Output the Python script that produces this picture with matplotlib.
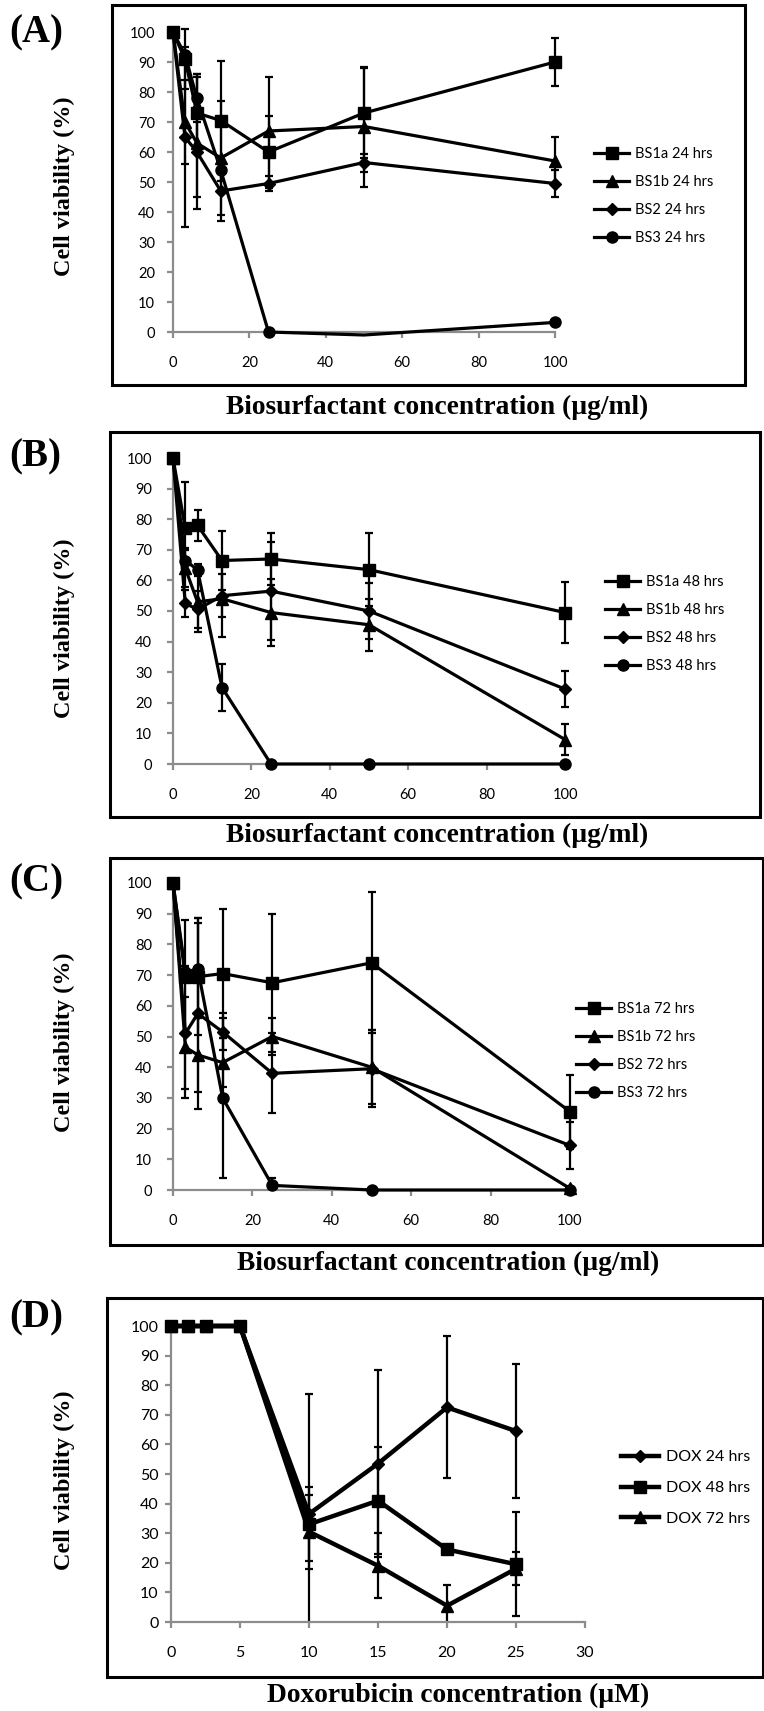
import numpy as np
import matplotlib
matplotlib.use("Agg")
import matplotlib.pyplot as plt
from matplotlib.patches import Rectangle
from matplotlib.transforms import Bbox, TransformedBbox

W, H = 764, 1711

# biosurfactant doses (ug/ml)
conc = [0, 3.125, 6.25, 12.5, 25, 50, 100]

# (A) 24 hrs
a_bs1a = [100, 91, 73, 70.5, 60, 73, 90]
a_bs1a_err = [0, 10, 13, 20, 12, 15, 8]
a_bs1b = [100, 70, 63, 58, 67, 68.5, 57]
a_bs1b_err = [0, 14, 22, 19, 18, 20, 8]
a_bs2 = [100, 65, 60, 47, 49.5, 56.5, 49.5]
a_bs2_err = [0, 30, 15, 10, 2.5, 3, 4.5]
a_bs3 = [100, 92.5, 78, 54, 0, -1, 3.2]
a_bs3_err = [0, 0, 8, 0, 0, 0, 0]

# (B) 48 hrs
b_bs1a = [100, 77, 78, 66.5, 67, 63.5, 49.5]
b_bs1a_err = [0, 15, 5, 9.5, 8.5, 12, 10]
b_bs1b = [100, 64, 53, 54, 49.5, 45.5, 8]
b_bs1b_err = [0, 6, 10, 12.5, 11, 8.5, 5]
b_bs2 = [100, 52.5, 50.5, 55, 56.5, 50, 24.5]
b_bs2_err = [0, 4.5, 6, 7, 16, 9, 6]
b_bs3 = [100, 66.5, 63.5, 25, 0, 0, 0]
b_bs3_err = [0, 4, 2, 7.6, 0, 0, 0]

# (C) 72 hrs
c_bs1a = [100, 69.5, 69.5, 70.5, 67.5, 74, 25.5]
c_bs1a_err = [0, 18.5, 19, 21, 22.5, 23, 12]
c_bs1b = [100, 46.5, 44, 41.5, 50, 40, 0.5]
c_bs1b_err = [0, 16.5, 12, 8, 6, 12, 0]
c_bs2 = [100, 51, 57.5, 51.5, 38, 39.5, 14.5]
c_bs2_err = [0, 18, 31, 6, 13, 12.5, 7.5]
c_bs3 = [100, 71, 72, 30, 1.5, 0, 0]
c_bs3_err = [0, 2, 15, 26, 2.5, 0, 0]

# (D) doxorubicin (uM)
dox_x = [0, 1.25, 2.5, 5, 10, 15, 20, 25]
dox24 = [100, 100, 100, 100, 36.5, 53.5, 72.5, 64.5]
dox24_err = [0, 0, 0, 0, 40.5, 31.5, 24, 22.5]
dox48 = [100, 100, 100, 100, 33, 41, 24.5, 19.5]
dox48_err = [0, 0, 0, 0, 12.5, 18, 1.5, 17.5]
dox72 = [100, 100, 100, 100, 30.5, 19, 5.5, 18]
dox72_err = [0, 0, 0, 0, 12.5, 11, 7, 5.5]

bs_markers = ["s", "^", "D", "o"]
bs_msizes = [8, 8.5, 6.5, 8]
dox_markers = ["D", "s", "^"]
dox_msizes = [6.5, 8.5, 8.5]

GRAY = "#8c8c8c"
tick_font = "Lato"
serif = "Liberation Serif"


def fx(px):
    return px / W


def fy(py):
    return 1 - py / H


def make_axes(x0, x1, ytop, ybot):
    return fig.add_axes([fx(x0), fy(ybot), fx(x1 - x0), (ybot - ytop) / H])


def frame(x0, y0, x1, y1):
    fig.add_artist(Rectangle((fx(x0), fy(y1)), fx(x1 - x0), (y1 - y0) / H,
                             transform=fig.transFigure, fill=False,
                             lw=2.2, ec="black", zorder=0))


def style_axes(ax, xmax, xstep, tsize, ypad, xpad):
    ax.set_xlim(0, xmax)
    ax.set_ylim(0, 100)
    ax.set_xticks(np.arange(0, xmax + 0.1, xstep))
    ax.set_yticks(np.arange(0, 101, 10))
    for s in ["top", "right"]:
        ax.spines[s].set_visible(False)
    for s in ["left", "bottom"]:
        ax.spines[s].set_color(GRAY)
        ax.spines[s].set_linewidth(1.6)
    ax.tick_params(axis="both", direction="out", length=4, width=1.6,
                   color=GRAY, labelsize=tsize)
    ax.tick_params(axis="y", pad=ypad)
    ax.tick_params(axis="x", pad=xpad)
    for lab in ax.get_xticklabels() + ax.get_yticklabels():
        lab.set_fontfamily(tick_font)
    ax.patch.set_visible(False)


def draw_series(ax, x, ys, errs, markers, msizes, labels, lw, hide=None):
    # error bars may poke above 100 but are cut at the x axis
    clip = TransformedBbox(Bbox([[-0.05, 0.0], [1.05, 1.1]]), ax.transAxes)
    handles = []
    for i, (y, e, m, ms, lab) in enumerate(zip(ys, errs, markers, msizes, labels)):
        every = None
        if hide is not None and hide[0] == i:
            every = [k for k in range(len(x)) if k != hide[1]]
        ln, = ax.plot(x, y, color="black", lw=lw, marker=m, markersize=ms,
                      markevery=every, label=lab, clip_on=False, zorder=3)
        eb = ax.errorbar(x, y, yerr=e, fmt="none", ecolor="black",
                         elinewidth=1.6, capsize=3.2, capthick=1.6, zorder=2)
        for cap in eb[1]:
            cap.set_clip_box(clip)
        for bar in eb[2]:
            bar.set_clip_box(clip)
        handles.append(ln)
    return handles


def add_legend(ax, handles, hx, cy, fsize, hlen, spacing):
    leg = ax.legend(handles=handles, loc="center left",
                    bbox_to_anchor=(fx(hx), fy(cy)),
                    bbox_transform=fig.transFigure, frameon=False,
                    borderpad=0, borderaxespad=0, handlelength=hlen,
                    handletextpad=0.4, labelspacing=spacing, numpoints=1,
                    prop={"family": tick_font, "size": fsize})
    return leg


fig = plt.figure(figsize=(W / 100, H / 100), dpi=100)

panels = [
    # label, box, axes, label y, xlabel y, xlabel x, ylabel y, xlabel
    ("(A)", (112, 5, 745, 385), (173, 555, 32, 332), 33, 407, 437, 186,
     "Biosurfactant concentration (\u00b5g/ml)"),
    ("(B)", (110, 432, 760, 817), (173, 565, 458, 764), 457, 835, 437, 628,
     "Biosurfactant concentration (\u00b5g/ml)"),
    ("(C)", (110, 858, 763, 1245), (173, 570, 883, 1190), 882, 1263, 448, 1042,
     "Biosurfactant concentration (\u00b5g/ml)"),
    ("(D)", (107, 1298, 763, 1677), (171, 585, 1326, 1622), 1318, 1695, 458, 1480,
     "Doxorubicin concentration (\u00b5M)"),
]

bs_data = [
    ([a_bs1a, a_bs1b, a_bs2, a_bs3], [a_bs1a_err, a_bs1b_err, a_bs2_err, a_bs3_err], "24"),
    ([b_bs1a, b_bs1b, b_bs2, b_bs3], [b_bs1a_err, b_bs1b_err, b_bs2_err, b_bs3_err], "48"),
    ([c_bs1a, c_bs1b, c_bs2, c_bs3], [c_bs1a_err, c_bs1b_err, c_bs2_err, c_bs3_err], "72"),
]
legend_pos = [(594, 196), (605, 624), (576, 1051)]

for i, (plabel, box, axpos, ly, xly, xlx, yly, xlabel) in enumerate(panels):
    frame(*box)
    ax = make_axes(*axpos)
    fig.text(fx(9), fy(ly), plabel, fontsize=28, fontweight="bold",
             family=serif, ha="left", va="center")
    fig.text(fx(xlx), fy(xly), xlabel, fontsize=19.8, fontweight="bold",
             family=serif, ha="center", va="center")
    fig.text(fx(64), fy(yly), "Cell viability (%)",
             fontsize=17.5, fontweight="bold", family=serif, rotation=90,
             ha="center", va="center")
    if i < 3:
        ys, errs, hr = bs_data[i]
        style_axes(ax, 100, 20, 10.5, 9 if i == 0 else 11, 13)
        labels = [f"BS1a {hr} hrs", f"BS1b {hr} hrs", f"BS2 {hr} hrs", f"BS3 {hr} hrs"]
        hide = (3, 5) if i == 0 else None
        hs = draw_series(ax, conc, ys, errs, bs_markers, bs_msizes, labels, 2.3, hide)
        add_legend(ax, hs, legend_pos[i][0], legend_pos[i][1], 10.5, 2.4, 0.95)
    else:
        style_axes(ax, 30, 5, 11.5, 5, 13)
        labels = ["DOX 24 hrs", "DOX 48 hrs", "DOX 72 hrs"]
        hs = draw_series(ax, dox_x, [dox24, dox48, dox72],
                         [dox24_err, dox48_err, dox72_err],
                         dox_markers, dox_msizes, labels, 3.2)
        add_legend(ax, hs, 621, 1488, 11.5, 2.4, 1.05)

fig.savefig("out.png", dpi=100)
